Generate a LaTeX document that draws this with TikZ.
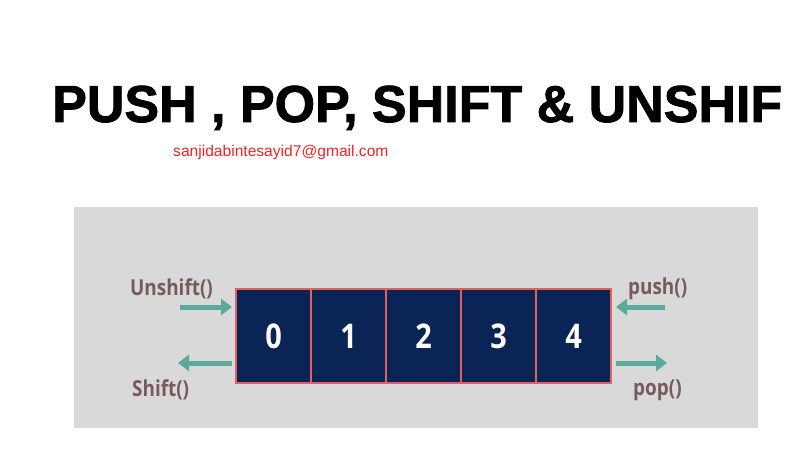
\documentclass[tikz,border=0pt]{standalone}
\usepackage{fontspec}
\setmainfont{Liberation Sans}
\newfontfamily\labfont{Open Sans}
\newfontfamily\titlefont[FakeBold=1.6]{Liberation Sans Bold}
\usetikzlibrary{arrows.meta,positioning}
\definecolor{navy}{HTML}{0B2456}
\definecolor{cellrim}{HTML}{E2605F}
\definecolor{panel}{HTML}{D9D9D9}
\definecolor{teal}{HTML}{5BA89D}
\definecolor{mauve}{HTML}{775A5E}
\definecolor{mailred}{HTML}{F0262A}

\begin{document}
\begin{tikzpicture}[x=1pt, y=-1pt,
  node distance=0pt,
  cell/.style={draw=cellrim, line width=1.6pt, fill=navy, text=white, minimum width=75pt, minimum height=94pt, inner sep=0pt, outer sep=0pt, font=\labfont\bfseries\fontsize{34}{34}\selectfont},
  op/.style={text=mauve, inner sep=0pt, font=\labfont\bfseries\fontsize{22}{22}\selectfont, xscale=0.86},
  arr/.style={teal, line width=5pt, -{Triangle[length=11pt, width=16pt]}}]
  \useasboundingbox[fill=white] (0,0) rectangle (786,454);
  \node[anchor=base west, inner sep=0pt, font=\titlefont\fontsize{52}{52}\selectfont] (title) at (52,122) {PUSH , POP, SHIFT \& UNSHIF};
  \node[anchor=base west, inner sep=0pt, text=mailred, font=\fontsize{15.6}{15.6}\selectfont] (mail) at (173,157) {sanjidabintesayid7@gmail.com};
  \fill[panel] (74,207) rectangle (758,428);
  % array cells
  \node[cell] (c0) at (273.5,336) {\scalebox{0.85}[1]{0}};
  \node[cell, right=of c0] (c1) {\scalebox{0.85}[1]{1}};
  \node[cell, right=of c1] (c2) {\scalebox{0.85}[1]{2}};
  \node[cell, right=of c2] (c3) {\scalebox{0.85}[1]{3}};
  \node[cell, right=of c3] (c4) {\scalebox{0.85}[1]{4}};
  % operations
  \node[op, anchor=base west] (unshift) at (130,295) {Unshift()};
  \node[op, anchor=base west] (shift) at (132,396) {Shift()};
  \node[op, anchor=base west] (push) at (628,294) {push()};
  \node[op, anchor=base west] (pop) at (633,395) {pop()};
  \coordinate (us) at (180,307);
  \coordinate (sh) at (178,363);
  \coordinate (pu) at (665,307);
  \coordinate (po) at (667,363);
  \draw[arr, shorten >=4pt] (us) -- (us -| c0.west);
  \draw[arr, shorten <=4pt] (sh -| c0.west) -- (sh);
  \draw[arr, shorten >=5pt] (pu) -- (pu -| c4.east);
  \draw[arr, shorten <=5pt] (po -| c4.east) -- (po);
\end{tikzpicture}
\end{document}
